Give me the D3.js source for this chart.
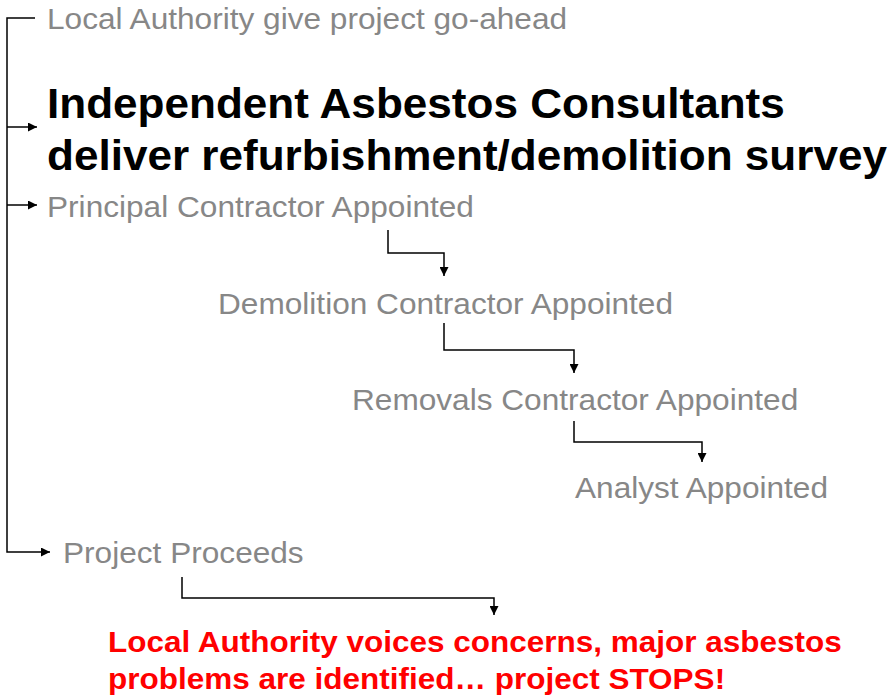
<!DOCTYPE html>
<html>
<head>
<meta charset="utf-8">
<script src="https://cdn.jsdelivr.net/npm/d3@7"></script>
<style>
  body { margin: 0; background: #fff; }
  svg { display: block; font-family: "Liberation Sans", Arial, sans-serif; }
</style>
</head>
<body>
<div id="chart"></div>
<script>
// step labels, in order of the process
const stepLabels = [
    "Local Authority give project go-ahead",
    "Principal Contractor Appointed",
    "Demolition Contractor Appointed",
    "Removals Contractor Appointed",
    "Analyst Appointed",
    "Project Proceeds"
];
const surveyLines = [
    "Independent Asbestos Consultants",
    "deliver refurbishment/demolition survey"
];
const stopLines = [
    "Local Authority voices concerns, major asbestos",
    "problems are identified\u2026 project STOPS!"
];

const width = 890, height = 696;

const svg = d3.select("#chart").append("svg")
    .attr("width", width)
    .attr("height", height);

svg.append("defs").append("marker")
    .attr("id", "arrow")
    .attr("viewBox", "0 0 10 10")
    .attr("refX", 10)
    .attr("refY", 5)
    .attr("markerWidth", 9)
    .attr("markerHeight", 9)
    .attr("markerUnits", "userSpaceOnUse")
    .attr("orient", "auto")
    .append("path")
    .attr("d", "M0,0L10,5L0,10Z")
    .attr("fill", "#000");

// text placement (x, baseline); the original text is slightly widened
const stepPos = [
    [47, 29], [47, 217], [218, 314], [352, 410], [575, 498], [63, 563]
];

svg.selectAll(".step")
    .data(stepLabels)
    .enter()
    .append("text")
    .attr("class", "step")
    .attr("transform", (d, i) => `translate(${stepPos[i][0]},${stepPos[i][1]}) scale(1.09,1)`)
    .attr("fill", "#878787")
    .style("font-size", "29px")
    .text(d => d);

svg.selectAll(".survey")
    .data(surveyLines)
    .enter()
    .append("text")
    .attr("class", "survey")
    .attr("transform", (d, i) => `translate(47,${118 + i * 52}) scale(1.025,1)`)
    .attr("fill", "#000")
    .style("font-size", "43px")
    .style("font-weight", "bold")
    .text(d => d);

svg.selectAll(".stop")
    .data(stopLines)
    .enter()
    .append("text")
    .attr("class", "stop")
    .attr("transform", (d, i) => `translate(108,${652 + i * 37}) scale(1.05,1)`)
    .attr("fill", "#ff0000")
    .style("font-size", "30px")
    .style("font-weight", "bold")
    .text(d => d);

// bracket and step connectors
const line = d3.line();
const connectors = [
    { pts: [[35, 18], [7, 18], [7, 552], [50, 552]], arrow: true },
    { pts: [[7, 127], [37, 127]], arrow: true },
    { pts: [[7, 205], [37, 205]], arrow: true },
    { pts: [[388, 230], [388, 253], [444, 253], [444, 276]], arrow: true },
    { pts: [[444, 323], [444, 350], [574, 350], [574, 373]], arrow: true },
    { pts: [[574, 421], [574, 442], [702, 442], [702, 462]], arrow: true },
    { pts: [[182, 577], [182, 598], [494, 598], [494, 615]], arrow: true }
];

svg.selectAll(".conn")
    .data(connectors)
    .enter()
    .append("path")
    .attr("class", "conn")
    .attr("d", d => line(d.pts))
    .attr("fill", "none")
    .attr("stroke", "#000")
    .attr("stroke-width", 1.5)
    .attr("marker-end", d => d.arrow ? "url(#arrow)" : null);
</script>
</body>
</html>
